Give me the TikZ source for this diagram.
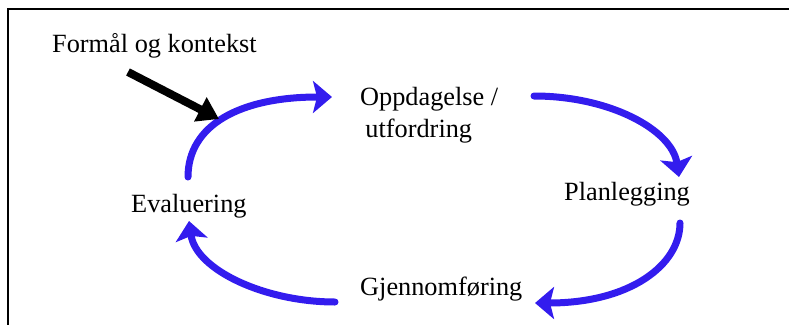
\documentclass[tikz,border=0pt]{standalone}
\usepackage{fontspec}
\setmainfont{Liberation Serif}
\usetikzlibrary{arrows.meta}
\definecolor{cycleblue}{RGB}{51,28,238}
\tikzset{
  label/.style={inner sep=0pt, anchor=base west, font=\fontsize{26.3}{31.5}\selectfont},
  cyclearrow/.style={draw=cycleblue, line width=7pt, line cap=round,
    -{Stealth[length=19pt 0 0, width=32pt 0 0, inset=4pt, fill=cycleblue]}},
  inputarrow/.style={draw=black, line width=8pt,
    -{Triangle[length=21pt 0 0, width=26pt 0 0]}},
  frameline/.style={draw=black, line width=1.8pt}
}
\begin{document}
\begin{tikzpicture}[x=1pt, y=-1pt]
  \useasboundingbox (0,0) rectangle (789,324);
  % open frame: only the top and left edges lie inside the page
  \draw[frameline] (8,340) -- (8,9) -- (800,9);

  % labels (the two-line label is placed by the baseline of its last line)
  \node[label] (formal) at (52,52) {Formål og kontekst};
  \node[label, align=left] (oppdag) at (360,137) {Oppdagelse /\\\hspace*{0.2em}utfordring};
  \node[label] (plan) at (564,200) {Planlegging};
  \node[label] (gjen) at (360,295) {Gjennomføring};
  \node[label] (eval) at (131,212) {Evaluering};

  % arc end points
  \coordinate (e1s) at (188,177);  \coordinate (e1t) at (332,97);
  \coordinate (o2s) at (534,96);   \coordinate (o2t) at (679,177);
  \coordinate (p3s) at (680,223);  \coordinate (p3t) at (535,303);
  \coordinate (g4s) at (335,302);  \coordinate (g4t) at (189,221);
  \coordinate (fin) at (128,72);   \coordinate (fint) at (219,119);

  % the cycle
  \draw[cyclearrow] (e1s) .. controls (188,125) and (240,97) .. (e1t);
  \draw[cyclearrow] (o2s) .. controls (610,96) and (672,130) .. (o2t);
  \draw[cyclearrow] (p3s) .. controls (680,265) and (630,303) .. (p3t);
  \draw[cyclearrow] (g4s) .. controls (265,302) and (196,270) .. (g4t);

  % purpose and context feeding into the cycle
  \draw[inputarrow] (fin) -- (fint);
\end{tikzpicture}
\end{document}
